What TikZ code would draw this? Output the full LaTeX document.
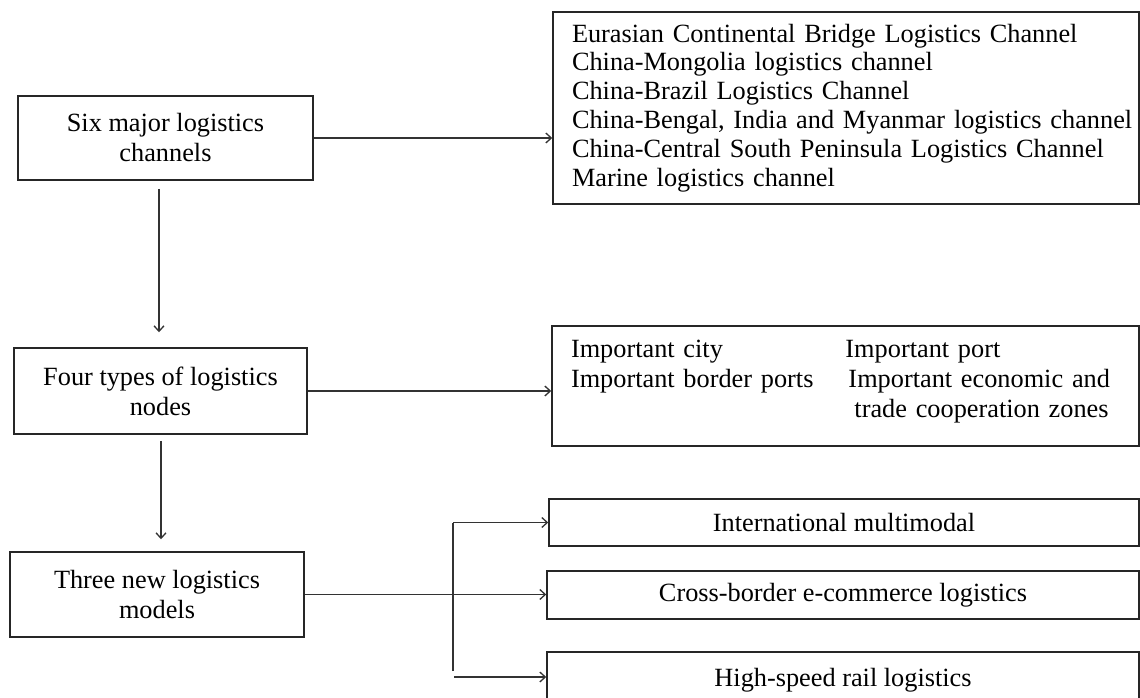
\documentclass[tikz,border=0pt]{standalone}
\usepackage{fontspec}
\setmainfont{Liberation Serif}
\usetikzlibrary{arrows.meta,calc}
\begin{document}
\begin{tikzpicture}[x=1pt,y=-1pt,
  box/.style={draw=black!85, line width=1.5pt, rectangle, inner sep=0pt,
    font=\fontsize{26.3}{30}\selectfont, align=center},
  arr/.style={draw=black!80, line width=1.3pt, -{Straight Barb[length=5.5pt,width=10pt]}},
  ln/.style={draw=black!80, line width=1.3pt}]
\useasboundingbox (0,0) rectangle (1140,698);
% left column
\node[box, minimum width=295pt, minimum height=84pt] (six) at (165.5,138) {Six major logistics\\channels};
\node[box, minimum width=293pt, minimum height=86pt] (four) at (160.5,391) {Four types of logistics\\nodes};
\node[box, minimum width=294pt, minimum height=85pt] (three) at (157,594.5) {Three new logistics\\models};
% right column
\node[box, minimum width=586pt, minimum height=192pt, text width=586pt, inner xsep=0pt, align=left,
      font=\fontsize{26.3}{28.9}\selectfont] (chan) at (846,108)
  {\leftskip=19pt\relax\hyphenpenalty=10000\relax
   Eurasian Continental Bridge Logistics Channel\\
   China-Mongolia logistics channel\\
   China-Brazil Logistics Channel\\
   China-Bengal, India and Myanmar logistics channel\\
   China-Central South Peninsula Logistics Channel\\
   Marine logistics channel\par\vspace{4pt}};
\node[box, minimum width=587pt, minimum height=120pt, text width=549pt, inner xsep=19pt, align=left] (nodes) at (845.5,386)
  {\begin{tabular}{@{}l@{\hspace{32pt}}l@{}}
   Important city & Important port\\
   Important border ports & \hspace{3pt}Important economic and\\
   & \hspace{9pt}trade cooperation zones\\[10pt]
   \end{tabular}};
\node[box, minimum width=590pt, minimum height=47pt] (intl) at (844,522.5) {International multimodal};
\node[box, minimum width=592pt, minimum height=48pt] (cross) at (843,595) {Cross-border e-commerce logistics};
\node[box, minimum width=592pt, minimum height=56pt] (rail) at (843,680) {High-speed rail logistics};
% helper coordinates
\coordinate (v1) at (159,0);
\coordinate (v2) at (161,0);
\coordinate (br) at (453,0);
% connectors
\draw[arr] (six.east) -- (six.east -| chan.west);
\draw[arr] ($(six.south -| v1)+(0,8)$) -- ($(four.north -| v1)+(0,-15)$);
\draw[arr] (four.east) -- (four.east -| nodes.west);
\draw[arr] ($(four.south -| v2)+(0,6)$) -- ($(three.north -| v2)+(0,-12)$);
\draw[arr] (three.east) -- (three.east -| cross.west);
\draw[ln] ($(br |- rail.west)+(0,-9)$) -- (br |- intl.west);
\draw[arr] (br |- intl.west) -- (intl.west);
\draw[arr] ($(br |- rail.west)+(1,-3)$) -- ($(rail.west)+(0,-3)$);
\end{tikzpicture}
\end{document}
